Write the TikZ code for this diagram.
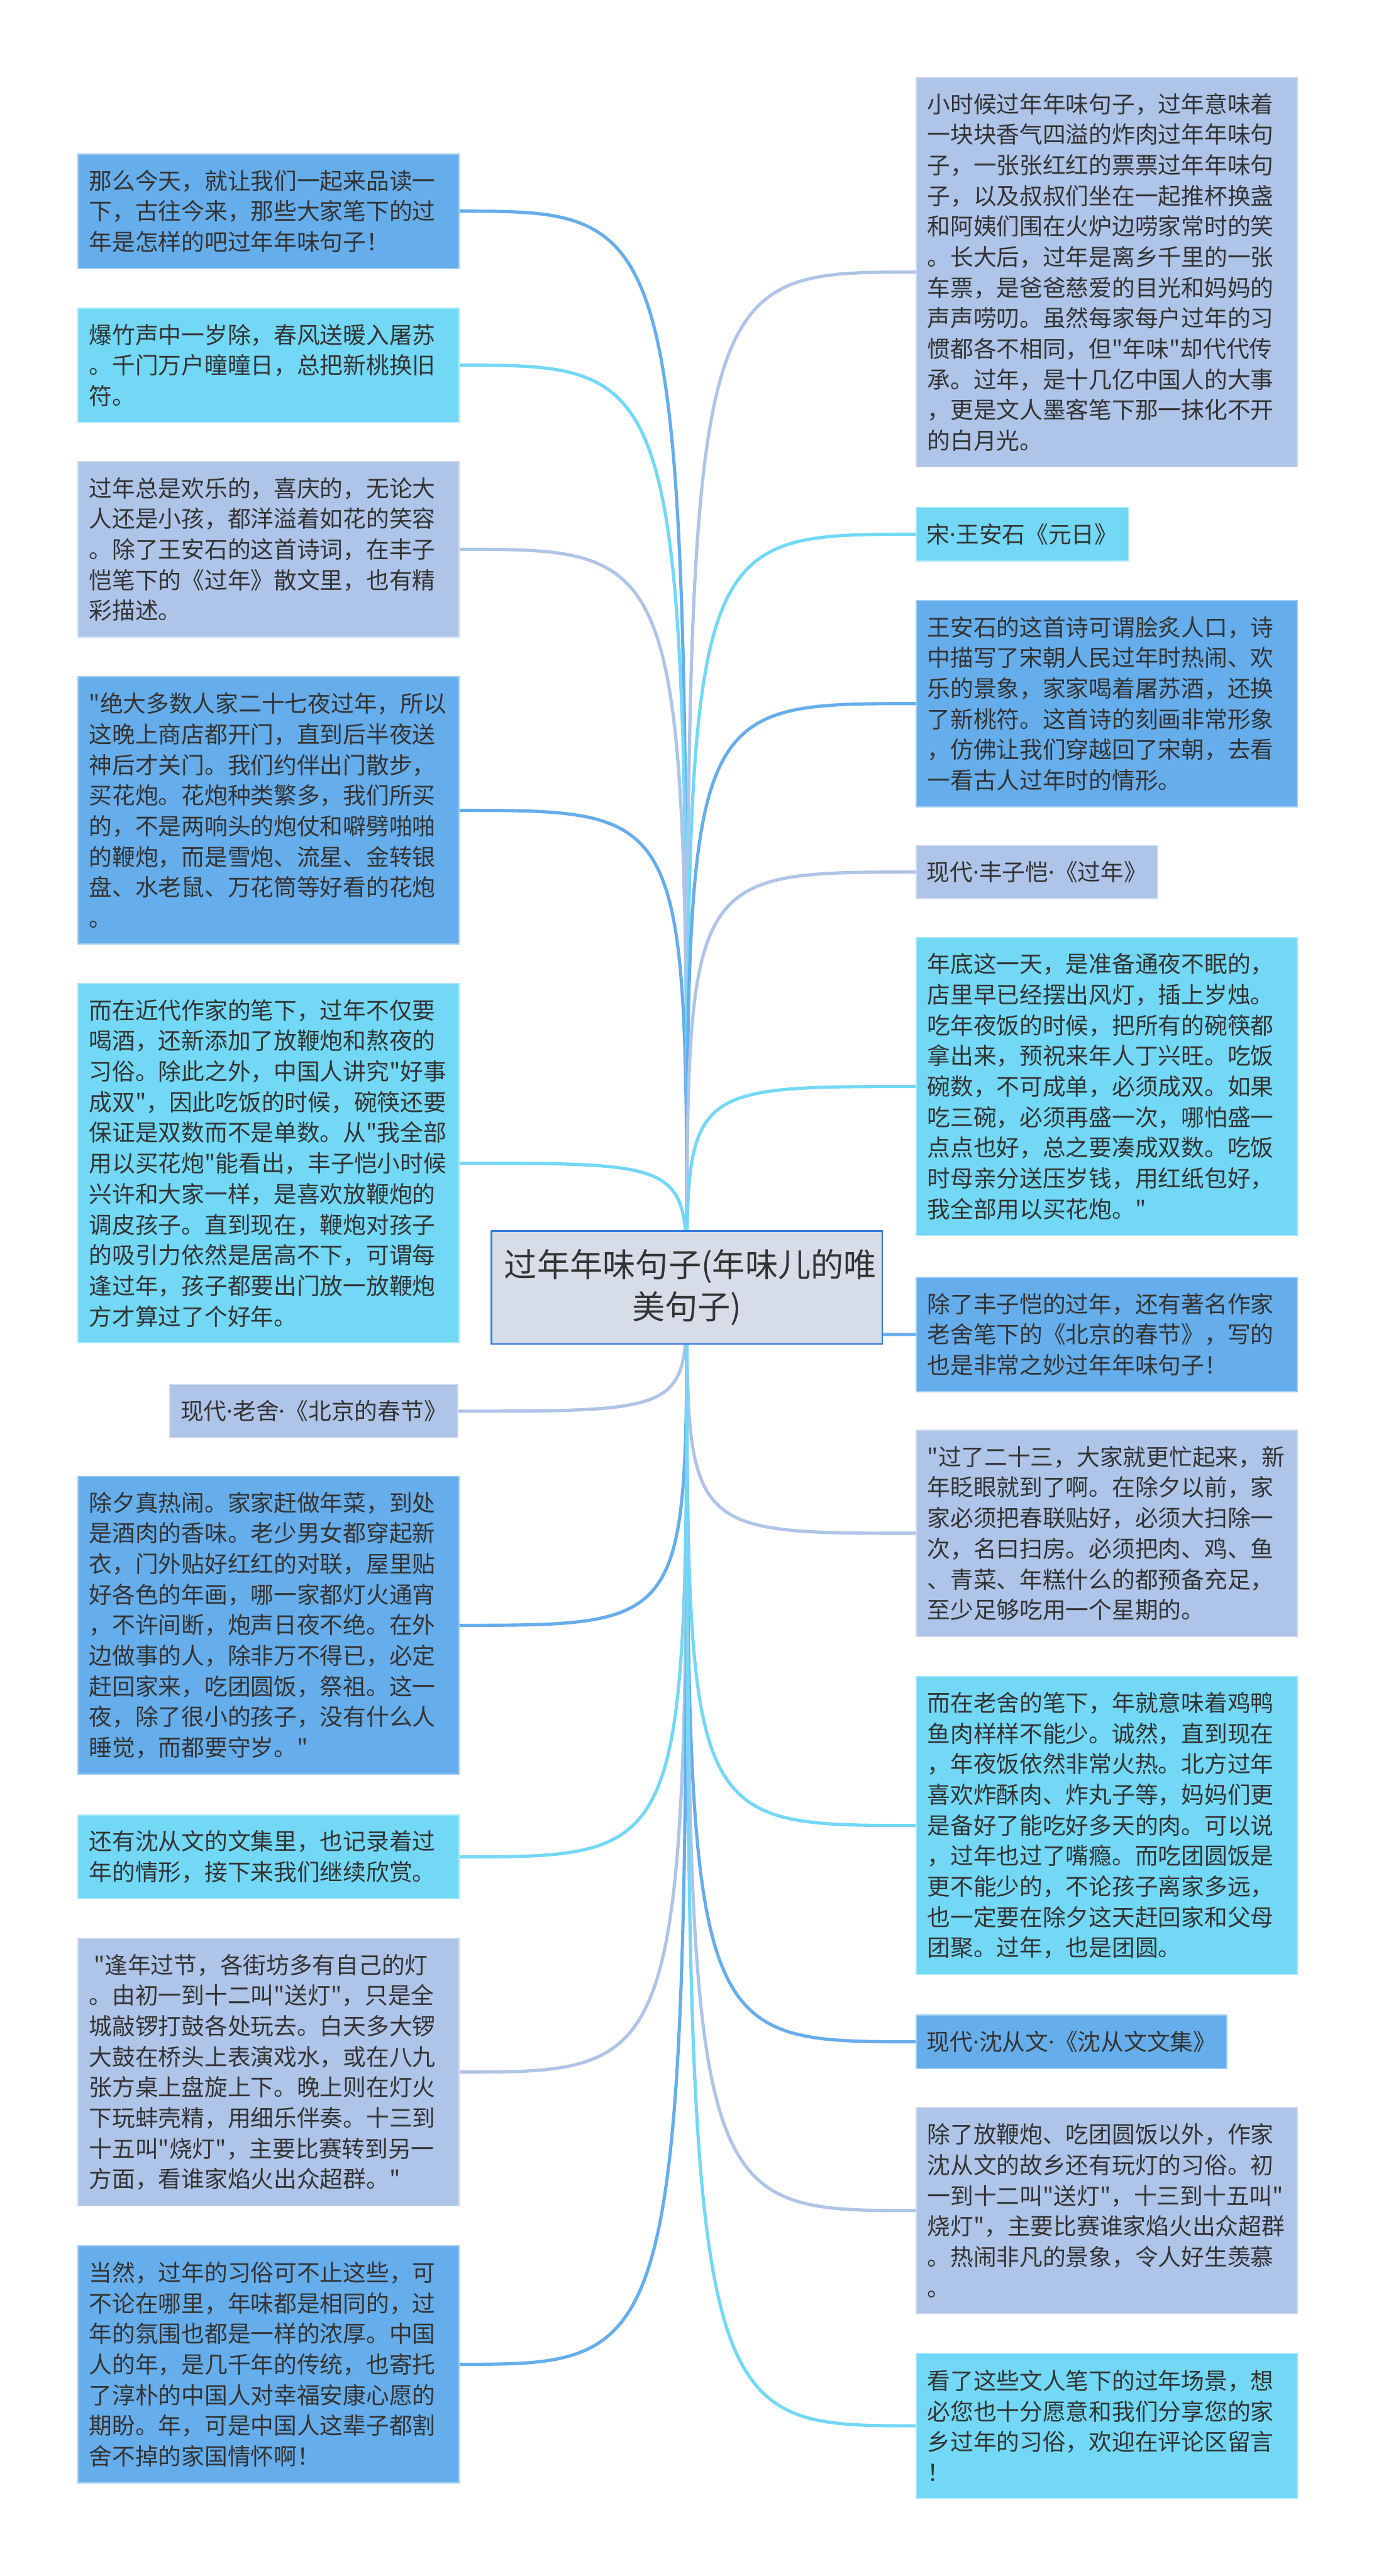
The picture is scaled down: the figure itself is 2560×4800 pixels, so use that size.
\documentclass[tikz,border=0pt]{standalone}
\usepackage{fontspec}
\setmainfont{Noto Sans CJK SC}[Ligatures=TeXOff]
\newfontfamily\latinf{Noto Sans}
\newcommand{\mdot}{{\latinf ·}}
\pgfdeclarelayer{background}
\pgfsetlayers{background,main}
\definecolor{nblue}{RGB}{102,173,235}
\definecolor{ncyan}{RGB}{114,216,246}
\definecolor{nlav}{RGB}{174,196,232}
\definecolor{cfill}{RGB}{214,221,232}
\definecolor{cborder}{RGB}{52,122,222}
\definecolor{txt}{RGB}{51,51,51}
\tikzset{
  box/.style={rectangle, inner xsep=0.21cm, inner ysep=0pt, text=txt,
    font=\fontsize{12.24pt}{16.22pt}\selectfont, align=left, line width=0.02cm},
  widebox/.style={box, text width=6.68cm},
  labbox/.style={box, inner xsep=0.2cm, minimum height=0.99cm},
  bluebox/.style={fill=nblue, draw=nblue!60!white},
  cyanbox/.style={fill=ncyan, draw=ncyan!60!white},
  lavbox/.style={fill=nlav, draw=nlav!60!white},
  link/.style={line width=0.06cm},
  centerbox/.style={rectangle, fill=cfill, draw=cborder, line width=0.03cm,
    minimum width=7.28cm, minimum height=2.10cm, text width=6.8cm, align=center,
    text=txt, font=\fontsize{17.4pt}{22.1pt}\selectfont}
}
\begin{document}
\begin{tikzpicture}[x=0.01cm, y=-0.01cm]
\useasboundingbox (0,0) rectangle (2560,4800);

\node[centerbox] (C) at (1280,2399) {过年年味句子(年味儿的唯\\美句子)};

% left column
\node[widebox, bluebox, anchor=west, minimum height=2.13cm] (L1) at (144,393.5)
{那么今天，就让我们一起来品读一\\下，古往今来，那些大家笔下的过\\年是怎样的吧过年年味句子！};
\node[widebox, cyanbox, anchor=west, minimum height=2.13cm] (L2) at (144,680.5)
{爆竹声中一岁除，春风送暖入屠苏\\。千门万户曈曈日，总把新桃换旧\\符。};
\node[widebox, lavbox, anchor=west, minimum height=3.27cm] (L3) at (144,1023.5)
{过年总是欢乐的，喜庆的，无论大\\人还是小孩，都洋溢着如花的笑容\\。除了王安石的这首诗词，在丰子\\恺笔下的《过年》散文里，也有精\\彩描述。};
\node[widebox, bluebox, anchor=west, minimum height=4.98cm] (L4) at (144,1510)
{"绝大多数人家二十七夜过年，所以\\这晚上商店都开门，直到后半夜送\\神后才关门。我们约伴出门散步，\\买花炮。花炮种类繁多，我们所买\\的，不是两响头的炮仗和噼劈啪啪\\的鞭炮，而是雪炮、流星、金转银\\盘、水老鼠、万花筒等好看的花炮\\。};
\node[widebox, cyanbox, anchor=west, minimum height=6.69cm] (L5) at (144,2167.5)
{而在近代作家的笔下，过年不仅要\\喝酒，还新添加了放鞭炮和熬夜的\\习俗。除此之外，中国人讲究"好事\\成双"，因此吃饭的时候，碗筷还要\\保证是双数而不是单数。从"我全部\\用以买花炮"能看出，丰子恺小时候\\兴许和大家一样，是喜欢放鞭炮的\\调皮孩子。直到现在，鞭炮对孩子\\的吸引力依然是居高不下，可谓每\\逢过年，孩子都要出门放一放鞭炮\\方才算过了个好年。};
\node[labbox, lavbox, anchor=east] (L6) at (854,2629.5) {现代\mdot 老舍\mdot《北京的春节》};
\node[widebox, bluebox, anchor=west, minimum height=5.55cm] (L7) at (144,3028.5)
{除夕真热闹。家家赶做年菜，到处\\是酒肉的香味。老少男女都穿起新\\衣，门外贴好红红的对联，屋里贴\\好各色的年画，哪一家都灯火通宵\\，不许间断，炮声日夜不绝。在外\\边做事的人，除非万不得已，必定\\赶回家来，吃团圆饭，祭祖。这一\\夜，除了很小的孩子，没有什么人\\睡觉，而都要守岁。"};
\node[widebox, cyanbox, anchor=west, minimum height=1.56cm] (L8) at (144,3460)
{还有沈从文的文集里，也记录着过\\年的情形，接下来我们继续欣赏。};
\node[widebox, lavbox, anchor=west, minimum height=4.98cm] (L9) at (144,3861)
{\hspace{0.2em}"逢年过节，各街坊多有自己的灯\\。由初一到十二叫"送灯"，只是全\\城敲锣打鼓各处玩去。白天多大锣\\大鼓在桥头上表演戏水，或在八九\\张方桌上盘旋上下。晚上则在灯火\\下玩蚌壳精，用细乐伴奏。十三到\\十五叫"烧灯"，主要比赛转到另一\\方面，看谁家焰火出众超群。"};
\node[widebox, bluebox, anchor=west, minimum height=4.41cm] (L10) at (144,4405.5)
{当然，过年的习俗可不止这些，可\\不论在哪里，年味都是相同的，过\\年的氛围也都是一样的浓厚。中国\\人的年，是几千年的传统，也寄托\\了淳朴的中国人对幸福安康心愿的\\期盼。年，可是中国人这辈子都割\\舍不掉的家国情怀啊！};

% right column
\node[widebox, lavbox, anchor=west, minimum height=7.26cm] (R1) at (1706,507)
{小时候过年年味句子，过年意味着\\一块块香气四溢的炸肉过年年味句\\子，一张张红红的票票过年年味句\\子，以及叔叔们坐在一起推杯换盏\\和阿姨们围在火炉边唠家常时的笑\\。长大后，过年是离乡千里的一张\\车票，是爸爸慈爱的目光和妈妈的\\声声唠叨。虽然每家每户过年的习\\惯都各不相同，但"年味"却代代传\\承。过年，是十几亿中国人的大事\\，更是文人墨客笔下那一抹化不开\\的白月光。};
\node[labbox, cyanbox, anchor=west] (R2) at (1706,995.5) {宋\mdot 王安石《元日》};
\node[widebox, bluebox, anchor=west, minimum height=3.84cm] (R3) at (1706,1311)
{王安石的这首诗可谓脍炙人口，诗\\中描写了宋朝人民过年时热闹、欢\\乐的景象，家家喝着屠苏酒，还换\\了新桃符。这首诗的刻画非常形象\\，仿佛让我们穿越回了宋朝，去看\\一看古人过年时的情形。};
\node[labbox, lavbox, anchor=west] (R4) at (1706,1625) {现代\mdot 丰子恺\mdot《过年》};
\node[widebox, cyanbox, anchor=west, minimum height=5.55cm] (R5) at (1706,2024.5)
{年底这一天，是准备通夜不眠的，\\店里早已经摆出风灯，插上岁烛。\\吃年夜饭的时候，把所有的碗筷都\\拿出来，预祝来年人丁兴旺。吃饭\\碗数，不可成单，必须成双。如果\\吃三碗，必须再盛一次，哪怕盛一\\点点也好，总之要凑成双数。吃饭\\时母亲分送压岁钱，用红纸包好，\\我全部用以买花炮。"};
\node[widebox, bluebox, anchor=west, minimum height=2.13cm] (R6) at (1706,2486.5)
{除了丰子恺的过年，还有著名作家\\老舍笔下的《北京的春节》，写的\\也是非常之妙过年年味句子！};
\node[widebox, lavbox, anchor=west, minimum height=3.84cm] (R7) at (1706,2857)
{"过了二十三，大家就更忙起来，新\\年眨眼就到了啊。在除夕以前，家\\家必须把春联贴好，必须大扫除一\\次，名曰扫房。必须把肉、鸡、鱼\\、青菜、年糕什么的都预备充足，\\至少足够吃用一个星期的。};
\node[widebox, cyanbox, anchor=west, minimum height=5.55cm] (R8) at (1706,3401.5)
{而在老舍的笔下，年就意味着鸡鸭\\鱼肉样样不能少。诚然，直到现在\\，年夜饭依然非常火热。北方过年\\喜欢炸酥肉、炸丸子等，妈妈们更\\是备好了能吃好多天的肉。可以说\\，过年也过了嘴瘾。而吃团圆饭是\\更不能少的，不论孩子离家多远，\\也一定要在除夕这天赶回家和父母\\团聚。过年，也是团圆。};
\node[labbox, bluebox, anchor=west] (R9) at (1706,3804.5) {现代\mdot 沈从文\mdot《沈从文文集》};
\node[widebox, lavbox, anchor=west, minimum height=3.84cm] (R10) at (1706,4119)
{除了放鞭炮、吃团圆饭以外，作家\\沈从文的故乡还有玩灯的习俗。初\\一到十二叫"送灯"，十三到十五叫"\\烧灯"，主要比赛谁家焰火出众超群\\。热闹非凡的景象，令人好生羡慕\\。};
\node[widebox, cyanbox, anchor=west, minimum height=2.70cm] (R11) at (1706,4520)
{看了这些文人笔下的过年场景，想\\必您也十分愿意和我们分享您的家\\乡过年的习俗，欢迎在评论区留言\\！};

\begin{pgfonlayer}{background}
\fill[white] (0,0) rectangle (2560,4800);
\foreach \n/\c in {L1/nblue, L2/ncyan, L3/nlav, L4/nblue, L5/ncyan, L6/nlav, L7/nblue, L8/ncyan, L9/nlav, L10/nblue}
  \draw[link, draw=\c] (C.center) .. controls (C.center |- \n.east) .. (\n.east);
\foreach \n/\c in {R1/nlav, R2/ncyan, R3/nblue, R4/nlav, R5/ncyan, R6/nblue, R7/nlav, R8/ncyan, R9/nblue, R10/nlav, R11/ncyan}
  \draw[link, draw=\c] (C.center) .. controls (C.center |- \n.west) .. (\n.west);
\end{pgfonlayer}
\end{tikzpicture}
\end{document}
